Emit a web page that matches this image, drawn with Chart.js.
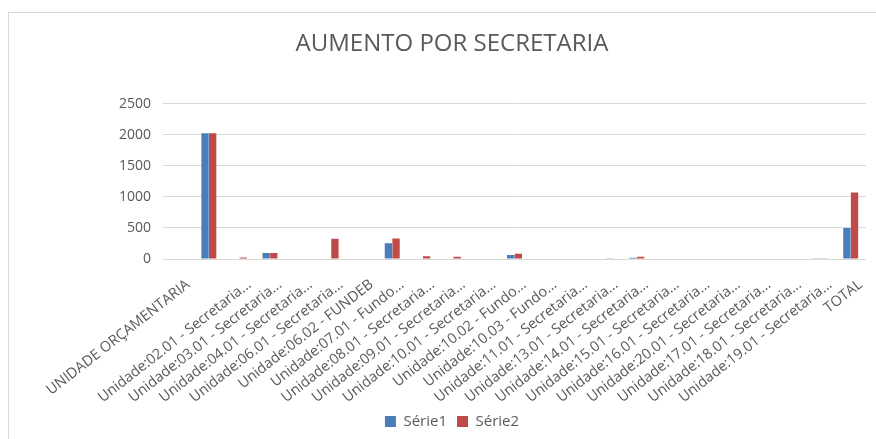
<!DOCTYPE html>
<html>
<head>
<meta charset="utf-8">
<script src="https://cdn.jsdelivr.net/npm/chart.js@4.4.1/dist/chart.umd.min.js"></script>
<style>
  html, body { margin: 0; padding: 0; background: #fff; }
  #wrap { width: 876px; height: 439px; }
</style>
</head>
<body>
<div id="wrap"><canvas id="myChart" width="876" height="439"></canvas></div>
<script>
const categories = [
  'UNIDADE ORÇAMENTARIA', '',
  'Unidade:02.01 - Secretaria...', 'Unidade:03.01 - Secretaria...',
  'Unidade:04.01 - Secretaria...', 'Unidade:06.01 - Secretaria...',
  'Unidade:06.02 - FUNDEB', 'Unidade:07.01 - Fundo...',
  'Unidade:08.01 - Secretaria...', 'Unidade:09.01 - Secretaria...',
  'Unidade:10.01 - Secretaria...', 'Unidade:10.02 - Fundo...',
  'Unidade:10.03 - Fundo...', 'Unidade:11.01 - Secretaria...',
  'Unidade:13.01 - Secretaria...', 'Unidade:14.01 - Secretaria...',
  'Unidade:15.01 - Secretaria...', 'Unidade:16.01 - Secretaria...',
  'Unidade:20.01 - Secretaria...', 'Unidade:17.01 - Secretaria...',
  'Unidade:18.01 - Secretaria...', 'Unidade:19.01 - Secretaria...',
  'TOTAL'
];
const serie1 = [0, 2025, 0, 95, 0, 8, 0, 255, 10, 10, 0, 65, 0, 0, 0, 20, 0, 0, 0, 0, 0, 3, 500];
const serie2 = [0, 2025, 25, 95, 0, 325, 0, 330, 45, 35, 0, 85, 0, 10, 12, 35, 0, 0, 0, 0, 8, 5, 1070];
const yTicks = [0, 500, 1000, 1500, 2000, 2500];

const textColor = '#595959';
const fontFamily = '"Open Sans", "Liberation Sans", sans-serif';

// white background + light chart border like the Excel frame
const frame = {
  id: 'frame',
  beforeDraw(chart) {
    const ctx = chart.ctx;
    ctx.save();
    ctx.fillStyle = '#fff';
    ctx.fillRect(0, 0, chart.width, chart.height);
    ctx.strokeStyle = '#d9d9d9';
    ctx.lineWidth = 1;
    ctx.strokeRect(8.5, 12.5, chart.width + 10, chart.height + 10);
    ctx.restore();
  }
};

const ctx = document.getElementById('myChart');
const myChart = new Chart(ctx, {
  type: 'bar',
  data: {
    labels: categories,
    datasets: [
      {
        label: 'Série1',
        data: serie1,
        backgroundColor: 'rgb(74, 126, 187)',
        categoryPercentage: 0.5,
        barPercentage: 0.96,
      },
      {
        label: 'Série2',
        data: serie2,
        backgroundColor: 'rgb(190, 75, 72)',
        categoryPercentage: 0.5,
        barPercentage: 0.96,
      },
    ],
  },
  options: {
    animation: false,
    responsive: false,
    // the Excel chart is cut off on the right, so title/legend sit right of the canvas centre
    layout: { padding: { left: 38, right: 10, top: 12, bottom: 0 } },
    plugins: {
      title: {
        display: true,
        text: 'AUMENTO POR SECRETARIA',
        color: textColor,
        font: { family: fontFamily, size: 24, weight: 'normal' },
        padding: { top: 18, bottom: 45 },
      },
      legend: {
        position: 'bottom',
        labels: {
          color: textColor,
          boxWidth: 11,
          boxHeight: 11,
          padding: 10,
          font: { family: fontFamily, size: 15 },
        },
      },
      tooltip: { enabled: false },
    },
    scales: {
      x: {
        grid: { display: false },
        border: { display: false },
        ticks: {
          color: textColor,
          font: { family: fontFamily, size: 14.5 },
          maxRotation: 38,
          minRotation: 38,
          autoSkip: false,
          padding: 9,
          labelOffset: 10,
        },
        afterFit(scale) { scale.height = 145; },
      },
      y: {
        min: 0,
        max: 2500,
        afterBuildTicks(scale) { scale.ticks = yTicks.map((v) => ({ value: v })); },
        grid: { color: '#d9d9d9', drawTicks: false },
        border: { display: false },
        ticks: {
          color: textColor,
          font: { family: fontFamily, size: 14 },
          padding: 12,
          callback: (v) => String(v),
        },
        afterFit(scale) { scale.width = 125; },
      },
    },
  },
  plugins: [frame],
});
</script>
</body>
</html>
